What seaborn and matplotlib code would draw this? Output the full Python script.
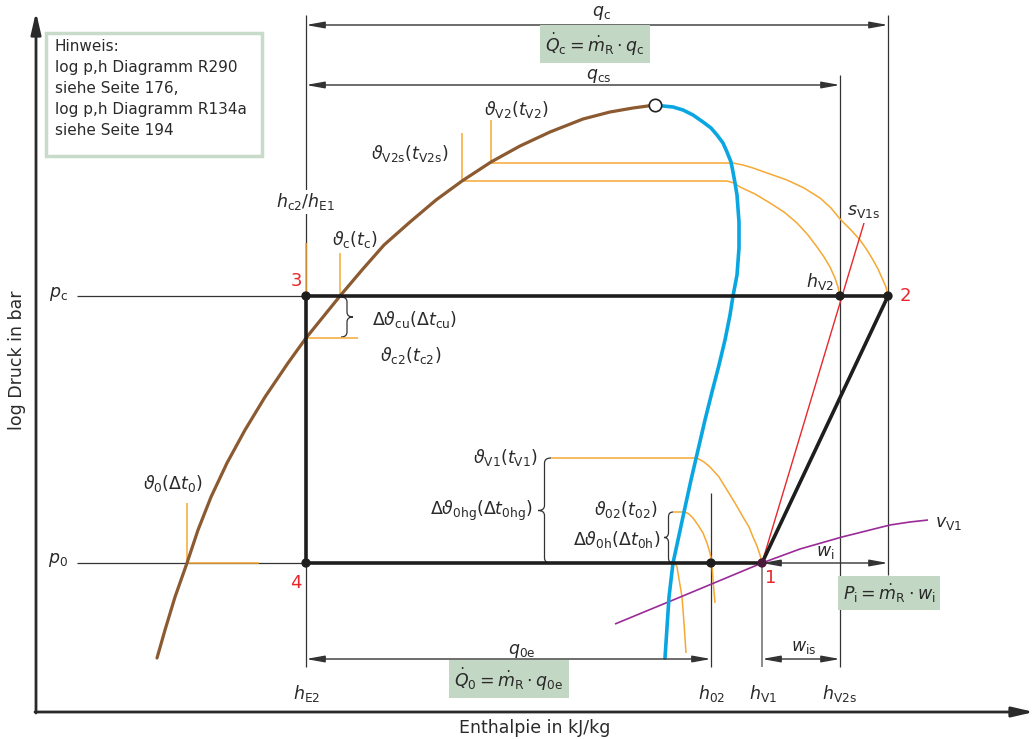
import matplotlib.pyplot as plt
import seaborn as sns
from matplotlib.path import Path
from matplotlib.patches import PathPatch, Rectangle

sns.set_style('white')
plt.rcParams['font.family'] = ['DejaVu Sans']
plt.rcParams['mathtext.fontset'] = 'dejavusans'

# Zustandspunkte (Enthalpie nach rechts, Druckniveau in Bildrichtung)
h_E2 = 306   # h_c2 / h_E1 / h_E2
h_02 = 711
h_V1 = 762
h_V2 = 840   # h_V2 / h_V2s
h_2 = 888
p_c = 296
p_0 = 563
h_krit, p_krit = 655, 105

# Siedelinie (braun) und Taulinie (blau)
siede_h = [157, 165, 175, 187, 198, 211, 227, 245, 265, 288, 306, 340, 362, 384, 410, 436, 462,
           491, 520, 550, 583, 610, 633, 655]
siede_p = [658, 630, 597, 563, 530, 497, 463, 430, 397, 363, 338, 296, 270, 245, 222, 200, 181,
           162, 146, 132, 119, 112, 108, 105]
tau_h = [655, 663, 673, 683, 693, 703, 711, 717, 723, 727, 731, 733, 735, 737, 739, 739, 737,
         733, 730, 725, 719, 712, 705, 698, 691, 684, 678, 673, 669, 665]
tau_p = [105, 106, 107, 110, 115, 122, 128, 135, 143, 152, 162, 172, 183, 195, 222, 248, 275,
         296, 315, 340, 365, 392, 420, 450, 480, 512, 540, 563, 597, 658]

# Isothermen (orange)
iso_v2_h = [491, 733, 743, 753, 770, 787, 804, 820, 831, 840, 851, 860, 867, 873, 878, 882, 886, 888]
iso_v2_p = [163, 163, 165, 168, 174, 180, 188, 198, 208, 219, 230, 240, 250, 260, 269, 278, 287, 296]
iso_v2s_h = [462, 727, 734, 740, 755, 770, 784, 797, 808, 817, 824, 830, 835, 838, 840]
iso_v2s_p = [181, 181, 183, 187, 194, 203, 212, 223, 235, 247, 257, 267, 278, 287, 296]
iso_v1_h = [551, 697, 704, 710, 719, 727, 735, 743, 749, 753, 757, 760, 762]
iso_v1_p = [458, 458, 462, 467, 477, 490, 503, 517, 527, 537, 546, 555, 563]
iso_02_h = [673, 685, 689, 693, 698, 703, 707, 710, 712, 713, 715]
iso_02_p = [512, 512, 514, 518, 525, 533, 543, 553, 563, 580, 603]
iso_0h_h = [633, 675, 677, 678, 680, 682, 683, 684, 685, 686]
iso_0h_p = [563, 563, 567, 573, 585, 597, 610, 623, 638, 653]

# Isentrope s_V1s (rot) und Isochore v_V1 (lila)
s_h = [762, 864]
s_p = [563, 223]
v_h = [615, 690, 762, 800, 842, 870, 890, 910, 928]
v_p = [624, 593, 563, 549, 537, 530, 525, 522, 520]

BRAUN = '#8c5a30'
BLAU = '#0aa6e2'
ORANGE = '#f6a833'
DUNKEL = '#2a2a2a'
GRUEN = '#c3d8c4'

fig = plt.figure(figsize=(10.34, 7.39), dpi=100)
ax = fig.add_axes([0, 0, 1, 1])


def linie(x, y, **kw):
    ax.plot(x, y, solid_capstyle='butt', solid_joinstyle='round', **kw)


def pfeil(x1, x2, y, stil='<|-|>'):
    ax.annotate('', xy=(x2, y), xytext=(x1, y),
                arrowprops=dict(arrowstyle=f'{stil},head_length=1.1,head_width=0.2',
                                lw=1.0, color='#333333', shrinkA=0, shrinkB=0))


def klammer(x0, y1, y2, w):
    ym = (y1 + y2) / 2
    q = 5
    verts = [(x0, y1), (x0 + w / 2, y1), (x0 + w / 2, y1 + q),
             (x0 + w / 2, ym - q), (x0 + w / 2, ym), (x0 + w, ym),
             (x0 + w / 2, ym), (x0 + w / 2, ym + q),
             (x0 + w / 2, y2 - q), (x0 + w / 2, y2), (x0, y2)]
    codes = [Path.MOVETO, Path.CURVE3, Path.CURVE3, Path.LINETO, Path.CURVE3, Path.CURVE3,
             Path.CURVE3, Path.CURVE3, Path.LINETO, Path.CURVE3, Path.CURVE3]
    ax.add_patch(PathPatch(Path(verts, codes), fc='none', ec='#333333', lw=0.9))


# Achsen mit Pfeilen
ax.annotate('', xy=(36, 12), xytext=(36, 713),
            arrowprops=dict(arrowstyle='-|>,head_length=1.3,head_width=0.3',
                            lw=2.0, color=DUNKEL, shrinkA=0, shrinkB=0))
ax.annotate('', xy=(1034, 712), xytext=(35, 712),
            arrowprops=dict(arrowstyle='-|>,head_length=1.3,head_width=0.3',
                            lw=2.0, color=DUNKEL, shrinkA=0, shrinkB=0))
ax.text(17, 360, 'log Druck in bar', rotation=90, ha='center', va='center', fontsize=12.5, color=DUNKEL)
ax.text(535, 728, 'Enthalpie in kJ/kg', ha='center', va='center', fontsize=12.5, color=DUNKEL)

# Hinweis-Kasten
ax.add_patch(Rectangle((46, 33), 216, 123, fc='white', ec='#c7dbc8', lw=2.5))
ax.text(55, 39, 'Hinweis:\nlog p,h Diagramm R290\nsiehe Seite 176,\nlog p,h Diagramm R134a\nsiehe Seite 194',
        ha='left', va='top', fontsize=11, linespacing=1.5, color=DUNKEL)

# dünne Hilfslinien
thin = dict(color='#333333', lw=0.9)
linie([77, h_E2], [p_c, p_c], **thin)
linie([77, h_E2], [p_0, p_0], **thin)
linie([h_E2, h_E2], [15, p_c], **thin)
linie([h_E2, h_E2], [p_0, 667], **thin)
linie([h_2, h_2], [15, 575], **thin)
linie([h_V2, h_V2], [75, 667], **thin)
linie([h_02, h_02], [493, 667], **thin)
linie([h_V1, h_V1], [p_0, 667], color='#777777', lw=1.2)

# Maßpfeile
pfeil(h_E2, h_2, 25)
pfeil(h_E2, h_V2, 85)
pfeil(h_E2, h_02, 659)
pfeil(h_V1, h_V2, 659)
pfeil(h_V1, h_2, p_0)

# orange Isothermen und Markierungen
orange = dict(color=ORANGE, lw=1.1)
linie(iso_v2_h, iso_v2_p, **orange)
linie(iso_v2s_h, iso_v2s_p, **orange)
linie(iso_v1_h, iso_v1_p, **orange)
linie(iso_02_h, iso_02_p, **orange)
linie(iso_0h_h, iso_0h_p, **orange)
linie([iso_v2_h[0], iso_v2_h[0]], [120, iso_v2_p[0]], **orange)
linie([iso_v2s_h[0], iso_v2s_h[0]], [133, iso_v2s_p[0]], **orange)
linie([340, 340], [253, p_c], **orange)
linie([h_E2, h_E2], [243, p_c], **orange)
linie([h_E2, 358], [338, 338], **orange)
linie([187, 187], [503, p_0], **orange)
linie([187, 259], [p_0, p_0], **orange)

# Isentrope und Isochore
linie(s_h, s_p, color='#e8262d', lw=1.0)
linie(v_h, v_p, color='#9a2a98', lw=1.2)

# Grenzkurven
sns.lineplot(x=siede_h, y=siede_p, sort=False, estimator=None, color=BRAUN, lw=2.3, ax=ax)
sns.lineplot(x=tau_h, y=tau_p, sort=False, estimator=None, color=BLAU, lw=2.6, ax=ax)

# Kreisprozess
dick = dict(color='#1e1e1e', lw=2.6, solid_capstyle='round', zorder=5)
ax.plot([h_E2, h_2], [p_c, p_c], **dick)
ax.plot([h_E2, h_E2], [p_c, p_0], **dick)
ax.plot([h_E2, h_V1], [p_0, p_0], **dick)
ax.plot([h_V1, h_2], [p_0, p_c], **dick)

sns.scatterplot(x=[h_E2, h_E2, h_2, h_V2, h_02], y=[p_c, p_0, p_c, p_c, p_0],
                color='#1e1e1e', s=45, edgecolor='none', zorder=6, ax=ax)
sns.scatterplot(x=[h_V1], y=[p_0], color='#4a1838', s=45, edgecolor='none', zorder=6, ax=ax)
sns.scatterplot(x=[h_krit], y=[p_krit], color='white', s=80, edgecolor='#222222',
                linewidth=1.2, zorder=7, ax=ax)

# Klammern
klammer(341, p_c + 1, 337, 12)
klammer(551, 458, p_0, -13)
klammer(673, 512, p_0, -9)

# Beschriftungen
txt = dict(fontsize=12.5, color=DUNKEL, zorder=8)
ax.text(58, 294, r'$p_{\mathrm{c}}$', ha='center', va='center', **txt)
ax.text(58, 560, r'$p_{0}$', ha='center', va='center', **txt)
ax.text(601, 13, r'$q_{\mathrm{c}}$', ha='center', va='center', **txt)
ax.text(599, 76, r'$q_{\mathrm{cs}}$', ha='center', va='center', **txt)
ax.text(522, 651, r'$q_{\mathrm{0e}}$', ha='center', va='center', **txt)
ax.text(804, 647, r'$w_{\mathrm{is}}$', ha='center', va='center', **txt)
ax.text(825, 552, r'$w_{\mathrm{i}}$', ha='center', va='center', **txt)
ax.text(306, 202, r'$h_{\mathrm{c2}}/h_{\mathrm{E1}}$', ha='center', va='center',
        bbox=dict(boxstyle='square,pad=0.1', fc='white', ec='none'), **txt)
ax.text(307, 693, r'$h_{\mathrm{E2}}$', ha='center', va='center', **txt)
ax.text(712, 693, r'$h_{\mathrm{02}}$', ha='center', va='center', **txt)
ax.text(763, 693, r'$h_{\mathrm{V1}}$', ha='center', va='center', **txt)
ax.text(839, 693, r'$h_{\mathrm{V2s}}$', ha='center', va='center', **txt)
ax.text(834, 282, r'$h_{\mathrm{V2}}$', ha='right', va='center', **txt)
ax.text(847, 211, r'$s_{\mathrm{V1s}}$', ha='left', va='center', **txt)
ax.text(935, 523, r'$v_{\mathrm{V1}}$', ha='left', va='center', **txt)
ax.text(355, 240, r'$\vartheta_{\mathrm{c}}(t_{\mathrm{c}})$', ha='center', va='center', **txt)
ax.text(372, 320, r'$\Delta\vartheta_{\mathrm{cu}}(\Delta t_{\mathrm{cu}})$', ha='left', va='center', **txt)
ax.text(380, 355, r'$\vartheta_{\mathrm{c2}}(t_{\mathrm{c2}})$', ha='left', va='center', **txt)
ax.text(448, 153, r'$\vartheta_{\mathrm{V2s}}(t_{\mathrm{V2s}})$', ha='right', va='center', **txt)
ax.text(484, 110, r'$\vartheta_{\mathrm{V2}}(t_{\mathrm{V2}})$', ha='left', va='center', **txt)
ax.text(173, 484, r'$\vartheta_{0}(\Delta t_{0})$', ha='center', va='center', **txt)
ax.text(538, 458, r'$\vartheta_{\mathrm{V1}}(t_{\mathrm{V1}})$', ha='right', va='center', **txt)
ax.text(533, 511, r'$\Delta\vartheta_{\mathrm{0hg}}(\Delta t_{\mathrm{0hg}})$', ha='right', va='center', **txt)
ax.text(658, 509, r'$\vartheta_{\mathrm{02}}(t_{\mathrm{02}})$', ha='right', va='center', **txt)
ax.text(660, 539, r'$\Delta\vartheta_{\mathrm{0h}}(\Delta t_{\mathrm{0h}})$', ha='right', va='center', **txt)

rot = dict(fontsize=13, color='#e8262d', ha='center', va='center', zorder=8)
ax.text(296, 281, '3', **rot)
ax.text(296, 583, '4', **rot)
ax.text(771, 578, '1', **rot)
ax.text(905, 296, '2', **rot)

box = dict(boxstyle='square,pad=0.3', fc=GRUEN, ec='none')
ax.text(595, 44, r'$\dot{Q}_{\mathrm{c}} = \dot{m}_{\mathrm{R}} \cdot q_{\mathrm{c}}$',
        ha='center', va='center', bbox=box, **txt)
ax.text(509, 679, r'$\dot{Q}_{0} = \dot{m}_{\mathrm{R}} \cdot q_{\mathrm{0e}}$',
        ha='center', va='center', bbox=box, **txt)
ax.text(889, 593, r'$P_{\mathrm{i}} = \dot{m}_{\mathrm{R}} \cdot w_{\mathrm{i}}$',
        ha='center', va='center', bbox=box, **txt)

ax.set_xlim(0, 1034)
ax.set_ylim(739, 0)
ax.axis('off')
fig.savefig('out.png', dpi=100)
